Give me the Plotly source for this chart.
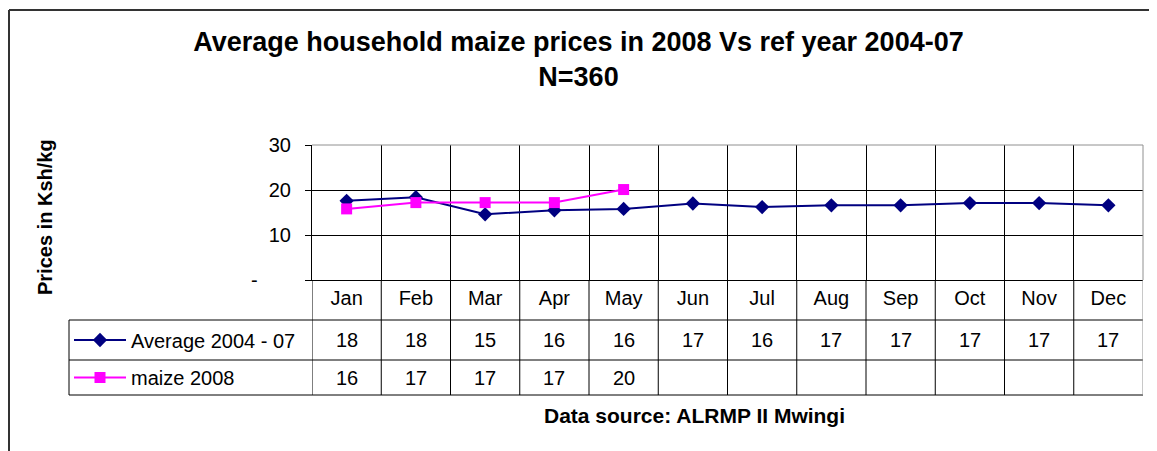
import math
import plotly.graph_objects as go

# ---------------- data ----------------
months = ["Jan", "Feb", "Mar", "Apr", "May", "Jun", "Jul", "Aug", "Sep", "Oct", "Nov", "Dec"]
avg_2004_07 = [17.6, 18.4, 14.6, 15.5, 15.8, 17.0, 16.2, 16.6, 16.6, 17.1, 17.1, 16.6]
maize_2008 = [15.8, 17.2, 17.2, 17.2, 20.1, None, None, None, None, None, None, None]
series_names = ["Average 2004 - 07", "maize 2008"]
y_tickvals = [0, 10, 20, 30]
y_ticktext = ["-" + "\u00a0" * 6, "10", "20", "30"]

title_text = "Average household maize prices in 2008 Vs ref year 2004-07<br>N=360"
y_title = "Prices in Ksh/kg"
source_text = "Data source: ALRMP II Mwingi"

# ---------------- layout geometry (window pixels) ----------------
OFF = 8                      # page body margin of the html page
WIN_W, WIN_H = 1157, 451
W, H = WIN_W - OFF, WIN_H - OFF
PL, PR, PT, PB = 312, 1143, 145, 280          # plot area in window pixels
pw, ph = PR - PL, PB - PT


def px_x(x):
    return (x - PL) / pw


def px_y(y):
    return (PB - y) / ph


FONT = "Liberation Sans, Arial, sans-serif"
NAVY = "#000080"
MAGENTA = "#FF00FF"

fig = go.Figure()
fig.add_trace(go.Scatter(
    x=months, y=avg_2004_07, name=series_names[0], mode="lines+markers",
    line=dict(color=NAVY, width=2),
    marker=dict(symbol="diamond", size=11, color=NAVY),
    legend="legend",
))
fig.add_trace(go.Scatter(
    x=months, y=maize_2008, name=series_names[1], mode="lines+markers",
    line=dict(color=MAGENTA, width=2),
    marker=dict(symbol="square", size=11, color=MAGENTA),
    legend="legend2",
))

shapes = []
LINE = dict(color="#000000", width=1)
# top and right border of plot area (gray)
shapes.append(dict(type="line", xref="paper", yref="paper", x0=0, x1=1, y0=1, y1=1,
                   line=dict(color="#909090", width=1)))
shapes.append(dict(type="line", xref="paper", yref="paper", x0=1, x1=1, y0=0, y1=1,
                   line=dict(color="#909090", width=1)))

# data table rows
row_lines = [320, 360, 395]
for yy in row_lines:
    shapes.append(dict(type="line", xref="paper", yref="paper",
                       x0=px_x(69), x1=1, y0=px_y(yy), y1=px_y(yy), line=LINE))
shapes.append(dict(type="line", xref="paper", yref="paper",
                   x0=px_x(69), x1=px_x(69), y0=px_y(320), y1=px_y(395), line=LINE))
for i in range(len(months) + 1):
    shapes.append(dict(type="line", xref="x", yref="paper",
                       x0=i - 0.5, x1=i - 0.5, y0=0, y1=px_y(395),
                       line=dict(color="#000000" if i < len(months) else "#909090", width=1)))

# outer chart frame (left and top edges visible)
shapes.append(dict(type="line", xref="paper", yref="paper",
                   x0=px_x(9), x1=px_x(WIN_W + 5), y0=px_y(10), y1=px_y(10),
                   line=dict(color="#333333", width=2)))
shapes.append(dict(type="line", xref="paper", yref="paper",
                   x0=px_x(9), x1=px_x(9), y0=px_y(10), y1=px_y(WIN_H + 5),
                   line=dict(color="#333333", width=2)))

annotations = []
row_centers = [340, 377.5]
for series, yc in zip([avg_2004_07, maize_2008], row_centers):
    for m, v in zip(months, series):
        if v is None:
            continue
        annotations.append(dict(
            x=m, xref="x", y=px_y(yc), yref="paper", text=str(int(math.floor(v + 0.5))),
            showarrow=False, xanchor="center", yanchor="middle",
            font=dict(family=FONT, size=20, color="#000000")))

annotations.append(dict(
    x=px_x(45), xref="paper", y=px_y(217), yref="paper", text=y_title, textangle=-90,
    showarrow=False, xanchor="center", yanchor="middle",
    font=dict(family=FONT, size=20, color="#000000", weight="bold")))
annotations.append(dict(
    x=px_x(694), xref="paper", y=px_y(415), yref="paper", text=source_text,
    showarrow=False, xanchor="center", yanchor="middle",
    font=dict(family=FONT, size=21, color="#000000", weight="bold")))

legend_common = dict(
    xref="paper", yref="paper", xanchor="left", yanchor="middle",
    bgcolor="rgba(0,0,0,0)", borderwidth=0, itemwidth=52,
    font=dict(family=FONT, size=20, color="#000000"),
    itemclick=False, itemdoubleclick=False,
)

fig.update_layout(
    width=W, height=H,
    margin=dict(l=PL - OFF, r=W - (PR - OFF), t=PT - OFF, b=H - (PB - OFF), pad=0),
    paper_bgcolor="white", plot_bgcolor="white",
    showlegend=True,
    title=dict(text=title_text, x=(WIN_W / 2 - OFF) / W, xref="container", xanchor="center",
               y=1 - 42.5 / H, yref="container", yanchor="middle",
               font=dict(family=FONT, size=27, color="#000000", weight="bold")),
    xaxis=dict(
        type="category", categoryorder="array", categoryarray=months,
        range=[-0.5, len(months) - 0.5], tickson="boundaries",
        showgrid=True, gridcolor="#000000", gridwidth=1,
        showline=True, linecolor="#000000", linewidth=1,
        ticks="", ticklabelstandoff=0,
        tickfont=dict(family=FONT, size=20, color="#000000"),
        zeroline=False, fixedrange=True,
    ),
    yaxis=dict(
        range=[0, 30], tickvals=y_tickvals, ticktext=y_ticktext,
        showgrid=True, gridcolor="#000000", gridwidth=1,
        showline=True, linecolor="#000000", linewidth=1,
        ticks="outside", ticklen=6, tickcolor="#000000", ticklabelstandoff=10,
        tickfont=dict(family=FONT, size=20, color="#000000"),
        zeroline=False, fixedrange=True,
    ),
    legend=dict(x=px_x(69), y=px_y(340), **legend_common),
    legend2=dict(x=px_x(69), y=px_y(377.5), **legend_common),
    shapes=shapes,
    annotations=annotations,
)

fig.write_html("out.html", config={"displayModeBar": False})
